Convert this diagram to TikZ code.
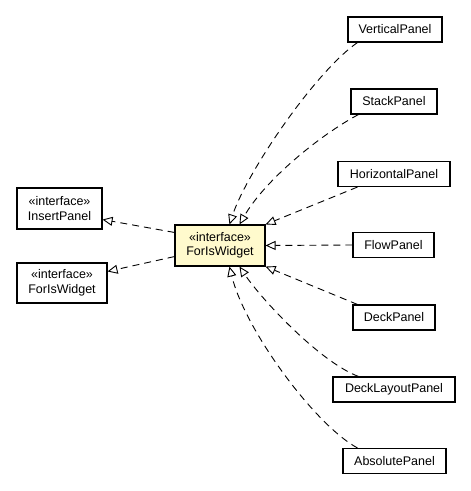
\documentclass[tikz,border=0pt]{standalone}
\usepackage{fontspec}
\setmainfont{Liberation Sans}
\usetikzlibrary{arrows.meta,calc}
\definecolor{ifill}{RGB}{255,250,205}
\tikzset{
  cls/.style={draw, line width=1.1pt, inner sep=0pt, minimum height=25pt,
    font=\fontsize{12.5}{14.5}\selectfont, align=center, fill=white},
  iface/.style={cls, minimum height=41pt},
  impl/.style={line width=0.9pt, dash pattern=on 7pt off 5pt,
    -{Triangle[open, length=10pt, width=9pt, fill=white]}}
}
\begin{document}
\begin{tikzpicture}[x=1pt,y=-1pt]
\useasboundingbox (0,0) rectangle (471,491);
\node[iface, fill=ifill, minimum width=90pt] (c) at (220,245.5) {«interface»\\ForIsWidget};
\node[iface, minimum width=85pt] (ins) at (59.5,208.5) {«interface»\\InsertPanel};
\node[iface, minimum width=90pt, minimum height=40pt] (fiw) at (62,283) {«interface»\\ForIsWidget};
\node[cls, minimum width=94pt] (vp) at (395,29.5) {VerticalPanel};
\node[cls, minimum width=86pt] (sp) at (394,101.5) {StackPanel};
\node[cls, minimum width=112pt] (hp) at (394,174) {HorizontalPanel};
\node[cls, minimum width=81pt] (fp) at (393.5,245) {FlowPanel};
\node[cls, minimum width=82pt] (dp) at (394,317.5) {DeckPanel};
\node[cls, minimum width=122pt] (dlp) at (394,389.5) {DeckLayoutPanel};
\node[cls, minimum width=103pt] (ap) at (394.5,461) {AbsolutePanel};

\draw[impl] ($(vp.south west)+(10,0)$) .. controls (315,72) and (247,172) .. ($(c.north west)+(55,0)$);
\draw[impl] ($(sp.south west)+(8,0)$) .. controls (320,135) and (265,180) .. ($(c.north west)+(65,0)$);
\draw[impl] ($(hp.south west)+(20,0)$) -- (c.north east);
\draw[impl] (fp.west) -- (c.east);
\draw[impl] ($(dp.north west)+(5,0)$) -- (c.south east);
\draw[impl] ($(dlp.north west)+(26,0)$) .. controls (320,362) and (262,300) .. ($(c.south west)+(65,0)$);
\draw[impl] ($(ap.north west)+(15,0)$) .. controls (315,425) and (245,330) .. ($(c.south west)+(55,0)$);
\draw[impl] ($(c.north west)+(0,8)$) -- ($(ins.south east)+(0,-10)$);
\draw[impl] ($(c.south west)+(0,-10)$) -- ($(fiw.north east)+(0,9)$);
\end{tikzpicture}
\end{document}
